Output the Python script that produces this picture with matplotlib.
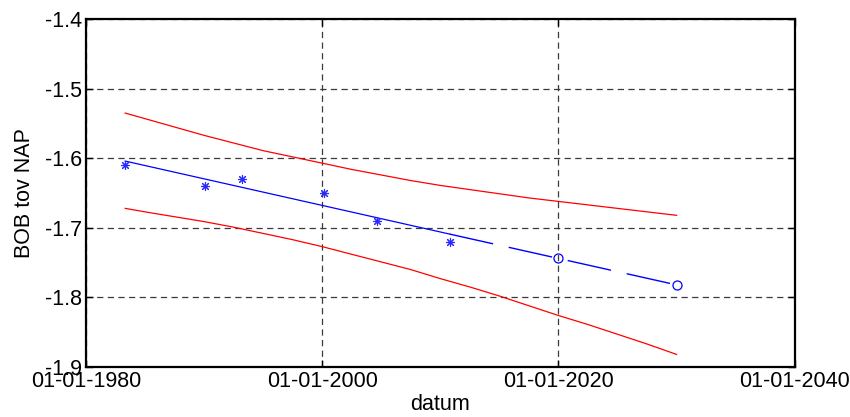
import matplotlib
matplotlib.use("Agg")
import matplotlib.pyplot as plt
import matplotlib.dates as mdates
import pandas as pd

plt.rcParams['font.family'] = ['Liberation Sans', 'DejaVu Sans']

# measurements (stars)
meas_dates = ['1983-04-15', '1990-02-01', '1993-03-15', '2000-03-01', '2004-08-20', '2010-10-20']
meas_vals = [-1.61, -1.64, -1.63, -1.65, -1.69, -1.72]

# predictions (circles)
pred_dates = ['2020-01-01', '2030-01-01']
pred_vals = [-1.744, -1.782]

# fitted trend: solid over the data, dashed for the extrapolation
fit_dates = ['1983-05-01', '2010-10-20']
fit_vals = [-1.604, -1.709]
ext_dates = ['2010-10-20', '2020-01-01', '2030-01-01']
ext_vals = [-1.709, -1.744, -1.782]

# confidence band
band_dates = ['1983-05-01', '1985-01-01', '1987-07-01', '1990-01-01', '1992-07-01', '1995-01-01',
              '1997-07-01', '2000-01-01', '2002-07-01', '2005-01-01', '2007-07-01', '2010-01-01',
              '2012-07-01', '2015-01-01', '2017-07-01', '2020-01-01', '2022-07-01', '2025-01-01',
              '2027-07-01', '2030-01-01']
band_upper = [-1.535, -1.543, -1.555, -1.567, -1.578, -1.589, -1.598, -1.607, -1.616, -1.624,
              -1.632, -1.639, -1.645, -1.651, -1.657, -1.662, -1.667, -1.672, -1.677, -1.682]
band_lower = [-1.672, -1.677, -1.684, -1.691, -1.699, -1.708, -1.717, -1.727, -1.738, -1.749,
              -1.760, -1.773, -1.785, -1.798, -1.812, -1.826, -1.839, -1.853, -1.867, -1.882]

x_ticks = ['1980-01-01', '2000-01-01', '2020-01-01', '2040-01-01']
y_ticks = [-1.9, -1.8, -1.7, -1.6, -1.5, -1.4]

d = pd.to_datetime

fig = plt.figure(figsize=(8.5, 4.17), dpi=100)
ax = fig.add_axes([0.101, 0.12, 0.834, 0.834])

ax.plot(d(band_dates), band_upper, color='#ff0000', lw=0.9)
ax.plot(d(band_dates), band_lower, color='#ff0000', lw=0.9)
ax.plot(d(fit_dates), fit_vals, color='#0000ff', lw=0.9)
ax.plot(d(ext_dates), ext_vals, color='#0000ff', lw=1.0, linestyle=(0, (32, 11.5)))
ax.plot(d(meas_dates), meas_vals, linestyle='none', marker=(8, 2, 0), markersize=6.5,
        markeredgecolor='#2a2aff', markeredgewidth=0.8)
ax.plot(d(pred_dates), pred_vals, linestyle='none', marker='o', markersize=6.5,
        markerfacecolor='none', markeredgecolor='#0000ff', markeredgewidth=0.9)

ax.set_xlim(d(x_ticks[0]), d(x_ticks[-1]))
ax.set_ylim(-1.9, -1.4)
ax.set_xticks(d(x_ticks))
ax.xaxis.set_major_formatter(mdates.DateFormatter('%d-%m-%Y'))
ax.set_yticks(y_ticks)
ax.set_yticklabels([f'{v:.1f}' for v in y_ticks])

ax.grid(True, color='#3a3a3a', linestyle=(0, (5, 3.5)), lw=0.9)
ax.tick_params(direction='in', length=5, width=1, top=True, right=True,
               labelsize=15.5, pad=3, colors='black')
for s in ax.spines.values():
    s.set_linewidth(1.6)

ax.set_xlabel('datum', fontsize=15.5, labelpad=1)
ax.set_ylabel('BOB tov NAP', fontsize=15.5, labelpad=7)

fig.savefig('out.png', dpi=100)
